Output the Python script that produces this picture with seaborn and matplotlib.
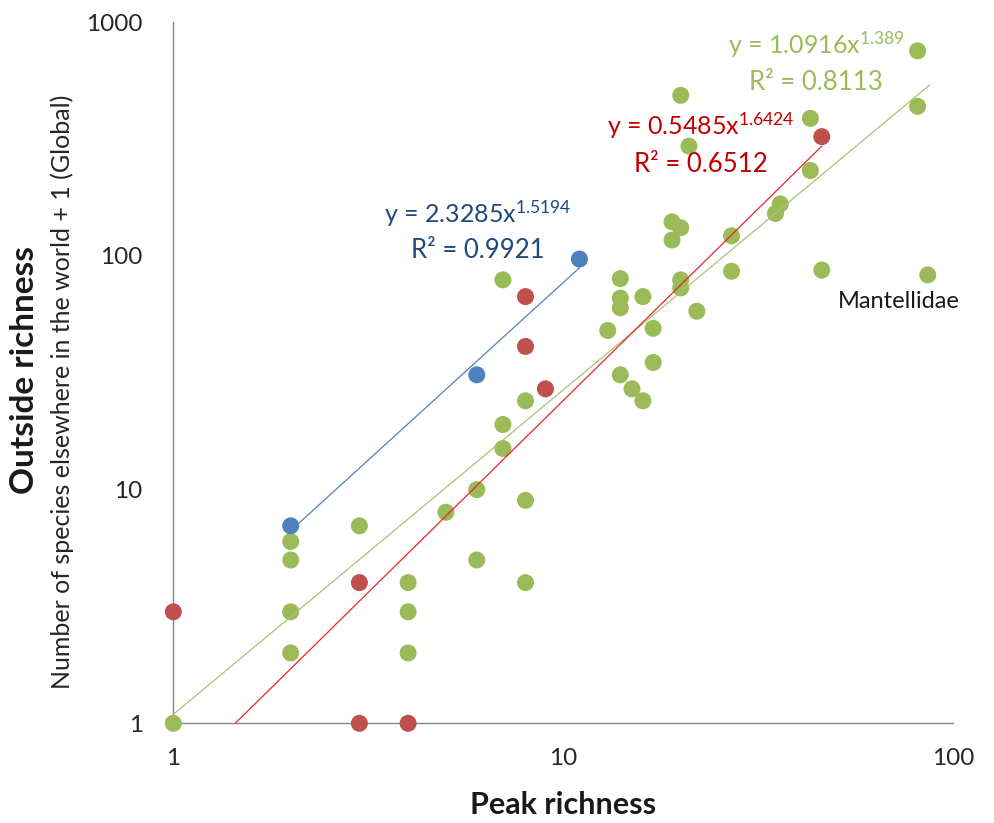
import numpy as np
import pandas as pd
import matplotlib
matplotlib.use("Agg")
import matplotlib.pyplot as plt
import seaborn as sns

# Peak richness (x) and outside richness + 1 (y) per family, by region group
green_x = [1, 2, 2, 2, 2, 3, 4, 4, 4, 5, 6, 6, 7, 7, 7, 8, 8, 8,
           13, 14, 14, 14, 14, 15, 16, 16, 17, 17, 19, 19, 20, 20, 20, 20,
           21, 22, 27, 27, 35, 36, 43, 43, 46, 81, 81, 86]
green_y = [1, 6, 5, 3, 2, 7, 4, 3, 2, 8, 10, 5, 15, 19, 79, 24, 9, 4,
           48, 80, 66, 60, 31, 27, 67, 24, 49, 35, 140, 117, 487, 132, 79, 73,
           295, 58, 122, 86, 152, 167, 388, 232, 87, 755, 437, 83]

red_x = [1, 3, 3, 4, 8, 8, 9, 46]
red_y = [3, 4, 1, 1, 67, 41, 27, 324]

blue_x = [2, 6, 11]
blue_y = [7, 31, 97]

# Power-law trendlines: (coefficient, exponent, R squared)
green_fit = (1.0916, 1.389, 0.8113)
red_fit = (0.5485, 1.6424, 0.6512)
blue_fit = (2.3285, 1.5194, 0.9921)

x_ticks = [1, 10, 100]
y_ticks = [1, 10, 100, 1000]

sns.set_style("white")
plt.rcParams["font.family"] = ["Lato", "DejaVu Sans"]
plt.rcParams["mathtext.fontset"] = "custom"
plt.rcParams["mathtext.rm"] = "Lato"
plt.rcParams["mathtext.it"] = "Lato"
plt.rcParams["mathtext.bf"] = "Lato:bold"

c_green, c_red, c_blue = "#9BBB59", "#C0504D", "#4F81BD"

df = pd.DataFrame({
    "peak": green_x + red_x + blue_x,
    "outside": green_y + red_y + blue_y,
    "group": ["green"] * len(green_x) + ["red"] * len(red_x) + ["blue"] * len(blue_x),
})

fig = plt.figure(figsize=(9.95, 8.23), dpi=100)
ax = fig.add_axes([173.3 / 995, 1 - 723.3 / 823, (953.3 - 173.3) / 995, (723.3 - 22.3) / 823])

sns.scatterplot(data=df, x="peak", y="outside", hue="group",
                palette={"green": c_green, "red": c_red, "blue": c_blue},
                s=150, edgecolor="none", legend=False, ax=ax, zorder=3,
                clip_on=False)

ax.set_xscale("log")
ax.set_yscale("log")
ax.set_xlim(1, 100)
ax.set_ylim(1, 1000)

# Trendlines from the stated power-law equations
def trend(fit, x0, x1, color):
    a, b, _ = fit
    xs = np.geomspace(x0, x1, 100)
    ax.plot(xs, a * xs ** b, color=color, lw=0.9, zorder=4)

trend(green_fit, 1, 87, "#A9C46F")
x_red0 = (1 / red_fit[0]) ** (1 / red_fit[1])
trend(red_fit, x_red0, 46, "#E8262A")
trend(blue_fit, 2, 11, c_blue)

# Axes in spreadsheet style: grey left/bottom spines, outward major ticks
for side in ["top", "right"]:
    ax.spines[side].set_visible(False)
for side in ["left", "bottom"]:
    ax.spines[side].set_color("#868686")
    ax.spines[side].set_linewidth(1.0)
ax.set_xticks(x_ticks)
ax.set_yticks(y_ticks)
ax.set_xticklabels([str(v) for v in x_ticks])
ax.set_yticklabels([str(v) for v in y_ticks])
ax.minorticks_off()
ax.tick_params(axis="both", which="major", direction="out", length=7, width=1,
               color="#868686", labelsize=17.5, labelcolor="#262626")
ax.tick_params(axis="x", pad=11)
ax.tick_params(axis="y", pad=15)
ax.set_xlabel("")
ax.set_ylabel("")

fig.text(563 / 995, 1 - 805 / 823, "Peak richness", ha="center", va="center",
         fontsize=22, fontweight="bold", color="#1a1a1a")
fig.text(25 / 995, 1 - 370 / 823, "Outside richness", ha="center", va="center",
         rotation=90, fontsize=24, fontweight="bold", color="#1a1a1a")
fig.text(62 / 995, 1 - 392 / 823, "Number of species elsewhere in the world + 1 (Global)",
         ha="center", va="center", rotation=90, fontsize=18, color="#262626")

# Equation labels
def eq_label(fit, xy_eq, xy_r2, color):
    a, b, r2 = fit
    fig.text(xy_eq[0] / 995, 1 - xy_eq[1] / 823,
             f"y = {a}x$\\mathregular{{^{{{b}}}}}$", ha="center", va="center",
             fontsize=18, color=color)
    fig.text(xy_r2[0] / 995, 1 - xy_r2[1] / 823, f"R² = {r2}",
             ha="center", va="center", fontsize=18.5, color=color)

eq_label(blue_fit, (478, 214), (478, 250), "#1F497D")
eq_label(red_fit, (701, 126), (701, 164), "#C00000")
eq_label(green_fit, (816, 45), (816, 82), c_green)

fig.text(899 / 995, 1 - 302 / 823, "Mantellidae", ha="center", va="center",
         fontsize=17, color="#1a1a1a")

fig.savefig("out.png", dpi=100)
